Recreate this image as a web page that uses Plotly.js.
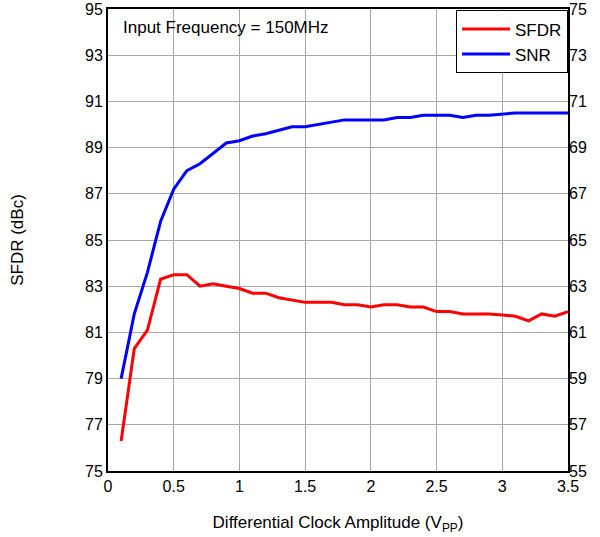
<!DOCTYPE html>
<html>
<head>
<meta charset="utf-8">
<script src="https://cdn.plot.ly/plotly-3.0.1.min.js"></script>
<style>html,body{margin:0;padding:0;background:#fff;}#chart{width:600px;height:537px;}</style>
</head>
<body>
<div id="chart"></div>
<script>
const amplitude = [0.1,0.2,0.3,0.4,0.5,0.6,0.7,0.8,0.9,1.0,1.1,1.2,1.3,1.4,1.5,1.6,1.7,1.8,1.9,2.0,2.1,2.2,2.3,2.4,2.5,2.6,2.7,2.8,2.9,3.0,3.1,3.2,3.3,3.4,3.5];
const sfdr = [76.3,80.3,81.1,83.3,83.5,83.5,83.0,83.1,83.0,82.9,82.7,82.7,82.5,82.4,82.3,82.3,82.3,82.2,82.2,82.1,82.2,82.2,82.1,82.1,81.9,81.9,81.8,81.8,81.8,81.75,81.7,81.5,81.8,81.7,81.9];
const snr = [59.0,61.8,63.6,65.8,67.2,68.0,68.3,68.75,69.2,69.3,69.5,69.6,69.75,69.9,69.9,70.0,70.1,70.2,70.2,70.2,70.2,70.3,70.3,70.4,70.4,70.4,70.3,70.4,70.4,70.45,70.5,70.5,70.5,70.5,70.5];
const leftTicks = [75,77,79,81,83,85,87,89,91,93,95];
const rightTicks = [55,57,59,61,63,65,67,69,71,73,75];
const xTicks = [0,0.5,1,1.5,2,2.5,3,3.5];
const xTickText = ['0','0.5','1','1.5','2','2.5','3','3.5'];

const fam = 'Liberation Sans, Arial, sans-serif';
const tickFont = {family: fam, size: 16, color: '#000'};
const titleFont = {family: fam, size: 17, color: '#000'};

const traces = [
  {x: amplitude, y: sfdr, name: 'SFDR', mode: 'lines', line: {color: '#ff0000', width: 3}, yaxis: 'y'},
  {x: amplitude, y: snr, name: 'SNR', mode: 'lines', line: {color: '#0000ff', width: 3}, yaxis: 'y2'}
];

const layout = {
  width: 600, height: 537,
  margin: {l: 108, r: 32, t: 9, b: 66},
  paper_bgcolor: '#fff', plot_bgcolor: '#fff',
  font: {family: fam, size: 16, color: '#000'},
  showlegend: true,
  legend: {x: 1, xanchor: 'right', y: 0.997, yanchor: 'top', bgcolor: '#fff', bordercolor: '#000', borderwidth: 1,
           font: {family: fam, size: 17, color: '#000'}, itemwidth: 48, tracegroupgap: 0},
  xaxis: {
    range: [0, 3.5], tickvals: xTicks, ticktext: xTickText,
    showgrid: true, gridcolor: '#a8a8a8', gridwidth: 1,
    showline: true, linecolor: '#000', linewidth: 2, mirror: true,
    ticks: '', zeroline: false,
    title: {text: 'Differential Clock Amplitude (V<sub>PP</sub>)', font: titleFont, standoff: 22},
    tickfont: tickFont
  },
  yaxis: {
    range: [75, 95], tickvals: leftTicks,
    showgrid: true, gridcolor: '#a8a8a8', gridwidth: 1,
    showline: true, linecolor: '#000', linewidth: 2, mirror: true,
    ticks: '', zeroline: false,
    title: {text: 'SFDR (dBc)', font: titleFont, standoff: 57},
    tickfont: tickFont
  },
  yaxis2: {
    range: [55, 75], tickvals: rightTicks, overlaying: 'y', side: 'right',
    showgrid: false, zeroline: false, showline: false, ticks: '',
    tickfont: tickFont
  },
  annotations: [{
    text: 'Input Frequency = 150MHz', xref: 'paper', yref: 'paper', x: 0.028, y: 0.985,
    xanchor: 'left', yanchor: 'top', showarrow: false,
    font: {family: fam, size: 17, color: '#000'}
  }]
};

Plotly.newPlot('chart', traces, layout, {displayModeBar: false, staticPlot: true});
</script>
</body>
</html>
